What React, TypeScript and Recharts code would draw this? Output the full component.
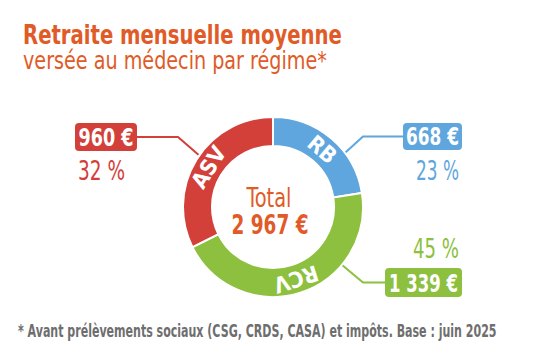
import { useLayoutEffect, useRef, useState } from "react"
import { Pie, PieChart } from "recharts"

const CATEGORIES = ["RB", "RCV", "ASV"]
const AMOUNTS = [668, 1339, 960]
const AMOUNT_LABELS = ["668 €", "1 339 €", "960 €"]
const PERCENT_LABELS = ["23 %", "45 %", "32 %"]
const TOTAL_LABEL = "2 967 €"

const SLICE_COLORS = ["#5ea6dd", "#8dc03f", "#d3403a"]
const ORANGE = "#e05b27"
const FONT = "'Liberation Sans Narrow', 'DejaVu Sans Condensed', Roboto, sans-serif"

const CX = 273
const CY = 207

// callout layout, one per slice (same order as CATEGORIES)
const CALLOUTS = [
    { angle: 37, elbowX: 363, box: { x: 403, y: 123, w: 59, h: 27 }, valueW: 53, pct: { x: 459, y: 180, w: 43, anchor: "end" } },
    { angle: -40, elbowX: 363, box: { x: 385, y: 268, w: 77, h: 29 }, valueW: 69, pct: { x: 459, y: 258, w: 46, anchor: "end" } },
    { angle: 145, elbowX: 178, box: { x: 75, y: 123, w: 62, h: 28 }, valueW: 55, pct: { x: 78, y: 180, w: 47, anchor: "start" } },
]

const pieData = CATEGORIES.map((name, i) => ({
    name,
    value: AMOUNTS[i],
    fill: SLICE_COLORS[i],
}))

const RADIAN = Math.PI / 180

// squeezes a text horizontally so it spans `width` px (condensed look)
const FitText = ({ x, y, width, anchor = "start", children, ...rest }: any) => {
    const ref = useRef<SVGTextElement>(null)
    const [scale, setScale] = useState(1)

    useLayoutEffect(() => {
        const w = ref.current ? ref.current.getComputedTextLength() : 0
        if (w > 0) setScale(width / w)
    }, [width, children])

    return (
        <text
            ref={ref}
            x={0}
            y={0}
            textAnchor={anchor}
            fontFamily={FONT}
            transform={`translate(${x} ${y}) scale(${scale} 1)`}
            {...rest}
        >
            {children}
        </text>
    )
}

const renderLabel = ({ cx, cy, midAngle, innerRadius, outerRadius, index }: any) => {
    const color = SLICE_COLORS[index]
    const r = (innerRadius + outerRadius) / 2
    const nx = cx + r * Math.cos(-midAngle * RADIAN)
    const ny = cy + r * Math.sin(-midAngle * RADIAN)

    const c = CALLOUTS[index]
    const sx = cx + (outerRadius + 1) * Math.cos(-c.angle * RADIAN)
    const sy = cy + (outerRadius + 1) * Math.sin(-c.angle * RADIAN)
    const midY = c.box.y + c.box.h / 2
    const right = c.box.x > cx
    const edgeX = right ? c.box.x : c.box.x + c.box.w

    return (
        <g>
            <text
                x={nx}
                y={ny}
                fill="#fff"
                fontWeight="bold"
                fontSize={22}
                fontFamily={FONT}
                textAnchor="middle"
                dominantBaseline="central"
                transform={`rotate(${90 - midAngle} ${nx} ${ny})`}
            >
                {CATEGORIES[index]}
            </text>
            <polyline
                points={`${sx},${sy} ${c.elbowX},${midY} ${edgeX},${midY}`}
                fill="none"
                stroke={color}
                strokeWidth={2}
            />
            <rect x={c.box.x} y={c.box.y} width={c.box.w} height={c.box.h} rx={4} fill={color} />
            <FitText
                x={c.box.x + c.box.w / 2}
                y={c.box.y + c.box.h - 5}
                width={c.valueW}
                anchor="middle"
                fill="#fff"
                fontWeight="bold"
                fontSize={25}
            >
                {AMOUNT_LABELS[index]}
            </FitText>
            <FitText
                x={c.pct.x}
                y={c.pct.y}
                width={c.pct.w}
                anchor={c.pct.anchor}
                fill={color}
                fontSize={26}
            >
                {PERCENT_LABELS[index]}
            </FitText>
        </g>
    )
}

export default function App() {
    return (
        <div style={{ position: "absolute", left: 0, top: 0, width: 547, height: 364, background: "#fff" }}>
            <PieChart width={547} height={364} margin={{ top: 0, right: 0, bottom: 0, left: 0 }}>
                <Pie
                    data={pieData}
                    dataKey="value"
                    cx={CX}
                    cy={CY}
                    innerRadius={61}
                    outerRadius={90}
                    startAngle={90}
                    endAngle={-270}
                    stroke="#fff"
                    strokeWidth={2}
                    label={renderLabel}
                    labelLine={false}
                    isAnimationActive={false}
                />
            </PieChart>
            <svg width={547} height={364} style={{ position: "absolute", left: 0, top: 0, pointerEvents: "none" }}>
                <FitText x={23} y={44} width={319} fill={ORANGE} fontWeight="bold" fontSize={26}>
                    Retraite mensuelle moyenne
                </FitText>
                <FitText x={23} y={69} width={304} fill={ORANGE} fontSize={25}>
                    versée au médecin par régime*
                </FitText>
                <FitText x={CX - 4} y={207} width={45} anchor="middle" fill={ORANGE} fontSize={27}>
                    Total
                </FitText>
                <FitText x={CX - 3} y={234} width={77} anchor="middle" fill={ORANGE} fontWeight="bold" fontSize={26}>
                    {TOTAL_LABEL}
                </FitText>
                <FitText x={18} y={337} width={479} fill="#6e6e6e" fontWeight="bold" fontSize={17}>
                    * Avant prélèvements sociaux (CSG, CRDS, CASA) et impôts. Base : juin 2025
                </FitText>
            </svg>
        </div>
    )
}
